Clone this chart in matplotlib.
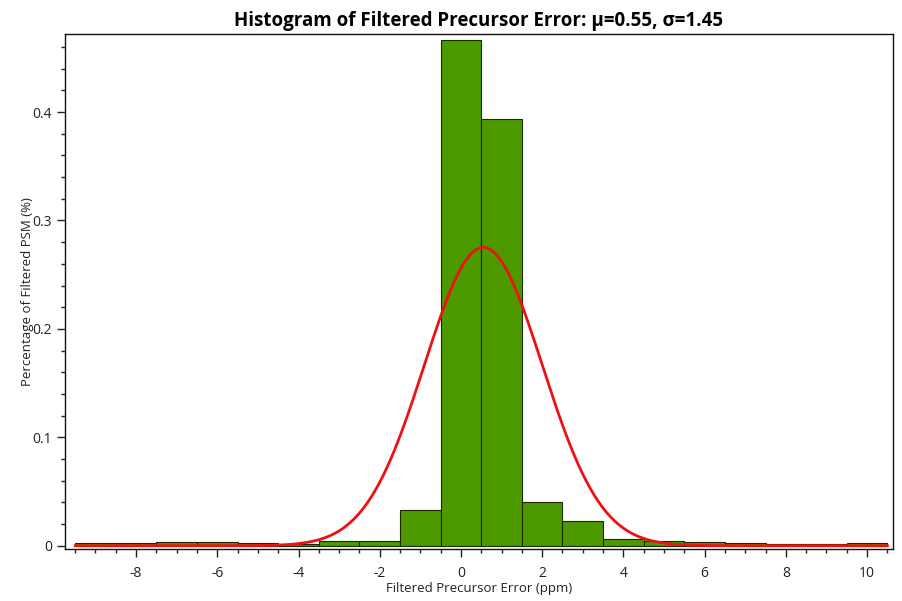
import matplotlib
matplotlib.use("Agg")
import matplotlib.pyplot as plt
import numpy as np
from matplotlib.ticker import MultipleLocator

plt.rcParams['font.family'] = ['Open Sans', 'DejaVu Sans']
plt.rcParams['axes.unicode_minus'] = False

# histogram bins (centres, ppm) and heights
bin_centers = [-9, -8, -7, -6, -5, -4, -3, -2, -1, 0, 1, 2, 3, 4, 5, 6, 7, 8, 9, 10]
heights = [0.0025, 0.0025, 0.0034, 0.0034, 0.0025, 0.0015, 0.0043, 0.0043, 0.033, 0.466,
           0.394, 0.040, 0.023, 0.0065, 0.0043, 0.0034, 0.0025, 0.0018, 0.0018, 0.0025]
mu = 0.55
sigma = 1.45

fig = plt.figure(figsize=(9.03, 6.01), dpi=100)
ax = fig.add_axes([0.072, 0.0865, 0.917, 0.857])

ax.bar(bin_centers, heights, width=1.0, color='#4C9900', edgecolor='#1a2a00', linewidth=0.8, zorder=2)

# gaussian fit curve
xs = np.linspace(-9.5, 10.5, 400)
ys = np.exp(-0.5 * ((xs - mu) / sigma) ** 2) / (sigma * np.sqrt(2 * np.pi))
ax.plot(xs, ys, color='#ee1111', linewidth=2, zorder=3)

ax.set_xlim(-9.75, 10.64)
ax.set_ylim(-0.003, 0.472)
ax.xaxis.set_major_locator(MultipleLocator(2))
ax.xaxis.set_minor_locator(MultipleLocator(0.5))
ax.yaxis.set_major_locator(MultipleLocator(0.1))
ax.yaxis.set_minor_locator(MultipleLocator(0.02))
ax.set_yticks([0, 0.1, 0.2, 0.3, 0.4])
ax.set_yticklabels(['0', '0.1', '0.2', '0.3', '0.4'])
ax.tick_params(which='major', length=6, width=1, labelsize=10, colors='#222222', direction='out')
ax.tick_params(which='minor', length=3, width=1, direction='out', colors='#222222')
ax.tick_params(axis='x', pad=6)

for s in ax.spines.values():
    s.set_linewidth(1)
    s.set_color('#111111')

ax.set_title('Histogram of Filtered Precursor Error: \u03bc=0.55, \u03c3=1.45',
             fontsize=13.5, fontweight='bold', pad=6)
ax.set_xlabel('Filtered Precursor Error (ppm)', fontsize=9.5, labelpad=1, color='#222222')
ax.set_ylabel('Percentage of Filtered PSM (%)', fontsize=9.5, color='#222222')
ax.yaxis.set_label_coords(-31 / 828, 0.5)

fig.savefig('out.png', dpi=100)
